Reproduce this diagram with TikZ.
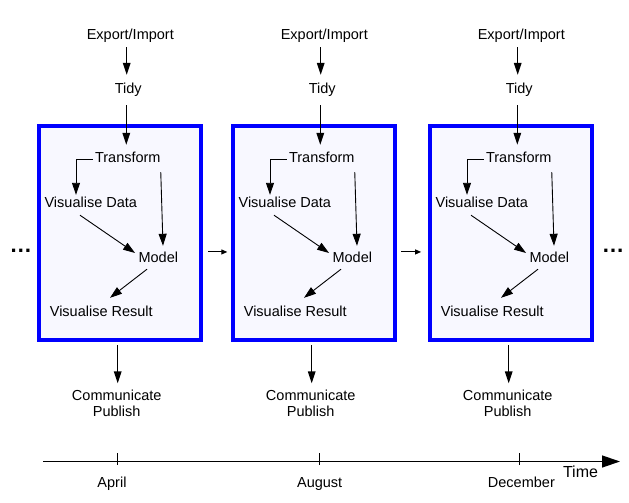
\documentclass[tikz,border=0pt]{standalone}
\usepackage{fontspec}
\setmainfont{Liberation Sans}
\usetikzlibrary{arrows.meta}
\definecolor{boxfill}{RGB}{248,248,255}
\definecolor{boxblue}{RGB}{0,0,255}
\begin{document}
\begin{tikzpicture}[x=1pt,y=-1pt,
  lbl/.style={anchor=base,inner sep=0pt,text height=10.5pt,text depth=3pt,font=\fontsize{14.5}{16.5}\selectfont},
  twoline/.style={anchor=north,inner sep=0pt,align=center,font=\fontsize{14.5}{16}\selectfont},
  arr/.style={line width=1.4pt,-{Triangle[length=12pt,width=7.5pt]}},
  darr/.style={line width=0.9pt,-{Triangle[length=12pt,width=8pt]}},
  sarr/.style={line width=1pt,-{Triangle[length=6pt,width=5pt]}},
  tarr/.style={line width=1.3pt,-{Triangle[length=18pt,width=12pt]}},
  tick/.style={line width=1pt},
  stagebox/.style={draw=boxblue,fill=boxfill,line width=4pt,minimum width=162.6pt,minimum height=213.7pt,inner sep=0pt},
  dotsnode/.style={anchor=base,inner sep=0pt,font=\fontsize{22.5}{24}\selectfont\bfseries}
]
\fill[white] (0,0) rectangle (629,503);
\useasboundingbox (0,0) rectangle (629,503);

\foreach \o/\n in {0/1,194/2,391/3}{
  \node[stagebox] (box\n) at (120+\o,233.15) {};
  \node[lbl] (exp\n) at (130.3+\o,39.7) {Export/Import};
  \node[lbl] (tidy\n) at (128.3+\o,93.7) {Tidy};
  \node[lbl] (tr\n) at (127.8+\o,162.7) {Transform};
  \node[lbl] (vd\n) at (90.8+\o,207.1) {Visualise Data};
  \node[lbl] (mo\n) at (158.3+\o,262.1) {Model};
  \node[lbl] (vr\n) at (101.3+\o,316) {Visualise Result};
  \node[twoline] (com\n) at (116.7+\o,390) {Communicate\\Publish};

  \draw[arr] ([xshift=-3.6pt,yshift=-4.3pt]exp\n.south) -- ([xshift=-1.6pt,yshift=8.2pt]tidy\n.north);
  \draw[arr] ([xshift=-2pt,yshift=-8.3pt]tidy\n.south) -- ([xshift=-1.5pt,yshift=7.2pt]tr\n.north);
  \draw[darr] ([xshift=-2pt]tr\n.west) -| ([xshift=-14.8pt,yshift=1.6pt]vd\n.north);
  \draw[darr] ([yshift=-6.3pt]tr\n.south east) -- ([xshift=4.7pt,yshift=5.6pt]mo\n.north);
  \draw[darr] ([xshift=-10.8pt,yshift=-4.9pt]vd\n.south) -- ([xshift=-3.3pt,yshift=5.35pt]mo\n.west);
  \draw[darr] ([xshift=-11.3pt,yshift=-3.9pt]mo\n.south) -- ([xshift=8.7pt,yshift=7.5pt]vr\n.north);
  \draw[arr] ([xshift=-2.3pt,yshift=-3pt]box\n.south) -- ([xshift=1pt,yshift=6.7pt]com\n.north);
}

\draw[sarr] ([xshift=4.7pt,yshift=-18.8pt]box1.east) -- ([xshift=-3.4pt,yshift=-18.8pt]box2.west);
\draw[sarr] ([xshift=3.7pt,yshift=-18.8pt]box2.east) -- ([xshift=-6.6pt,yshift=-18.8pt]box3.west);

\node[dotsnode] (ldots) at (20.8,252.5) {…};
\node[dotsnode] (rdots) at (613,252.5) {…};

% time axis
\coordinate (tstart) at (43,461.5);
\coordinate (tend) at (620,461.5);
\draw[tarr] (tstart) -- (tend);
\coordinate (tk1) at (117,461.5);
\coordinate (tk2) at (319.5,461.5);
\coordinate (tk3) at (519,461.5);
\foreach \t in {tk1,tk2,tk3}{
  \draw[tick] ([yshift=8.5pt]\t) -- ([yshift=-3.5pt]\t);
}
\node[lbl] (apr) at (112,487) {April};
\node[lbl] (aug) at (319.7,487) {August};
\node[lbl] (dec) at (521.4,487) {December};
\node[lbl,font=\fontsize{16}{18}\selectfont] (time) at (580.5,477) {Time};
\end{tikzpicture}
\end{document}
